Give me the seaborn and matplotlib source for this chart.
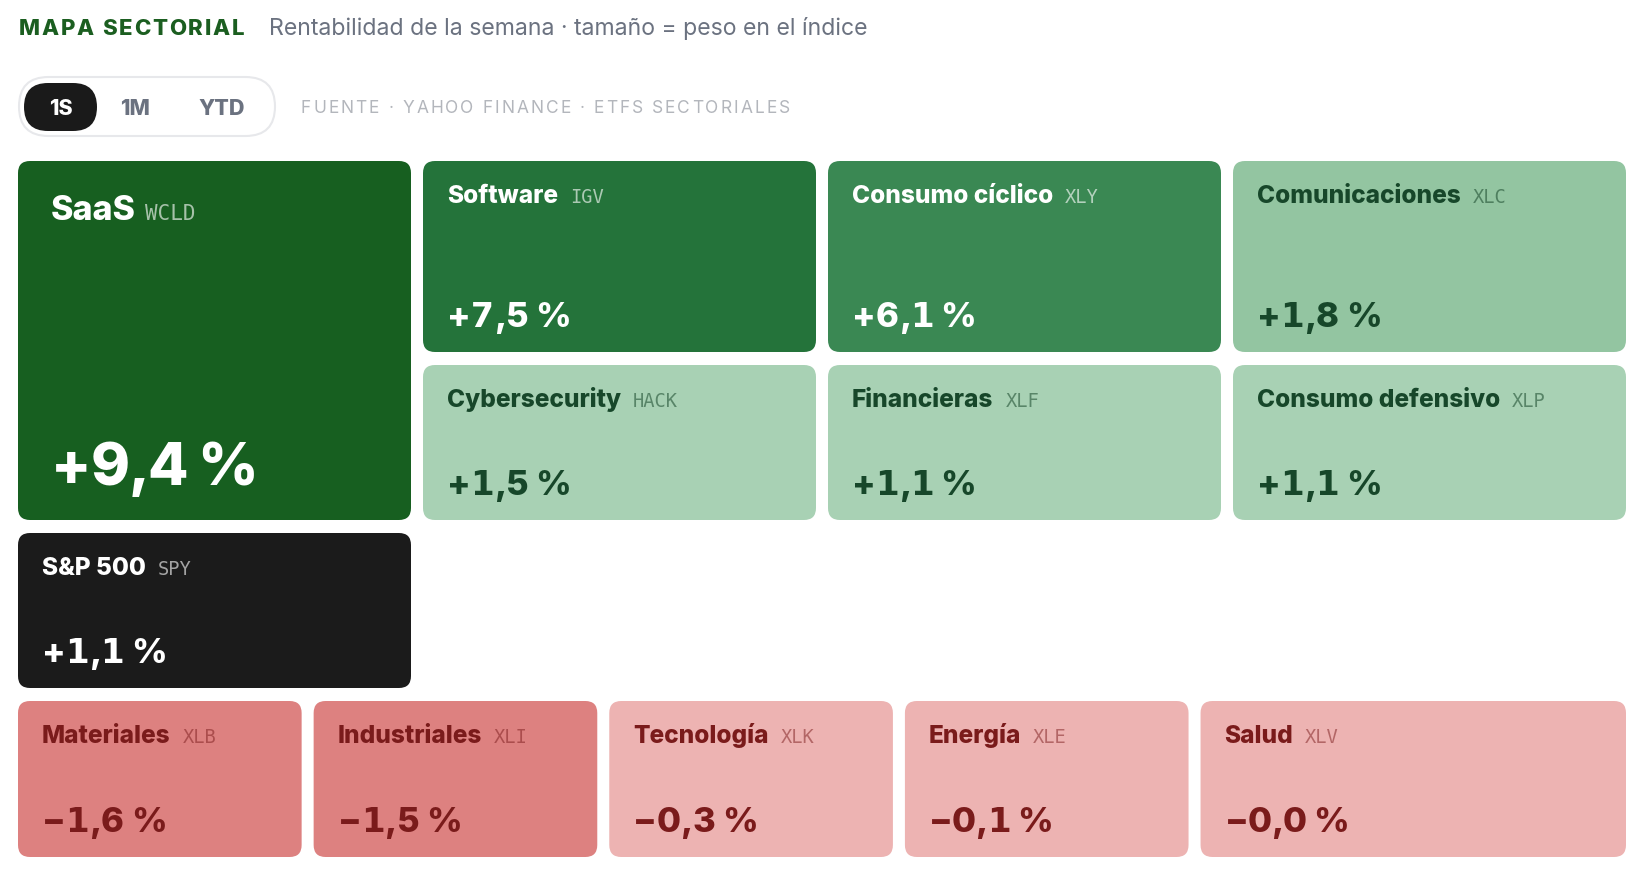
import math
import matplotlib
matplotlib.use("Agg")
import matplotlib.pyplot as plt
from matplotlib.patches import FancyBboxPatch
import seaborn as sns

# ---------------- data ----------------
sectors = ["SaaS", "Software", "Consumo cíclico", "Comunicaciones",
           "Cybersecurity", "Financieras", "Consumo defensivo", "S&P 500",
           "Materiales", "Industriales", "Tecnología", "Energía", "Salud"]
tickers = ["WCLD", "IGV", "XLY", "XLC", "HACK", "XLF", "XLP", "SPY",
           "XLB", "XLI", "XLK", "XLE", "XLV"]
returns = [9.4, 7.5, 6.1, 1.8, 1.5, 1.1, 1.1, 1.1,
           -1.6, -1.5, -0.3, -0.1, -0.0]
benchmark = "SPY"
periods = ["1S", "1M", "YTD"]
active_period = "1S"
title = "MAPA SECTORIAL"
subtitle = "Rentabilidad de la semana · tamaño = peso en el índice"
source = "FUENTE · YAHOO FINANCE · ETFS SECTORIALES"

# ---------------- style ----------------
sns.set_theme(style="white")
plt.rcParams["font.family"] = ["Inter", "DejaVu Sans"]
MONO = ["DejaVu Sans Mono"]
HEAVY = 800

W, H = 1648, 876
fig = plt.figure(figsize=(W / 100, H / 100), dpi=100)
fig.patch.set_facecolor("white")
ax = fig.add_axes([0, 0, 1, 1])
ax.set_xlim(0, W)
ax.set_ylim(H, 0)
ax.axis("off")
renderer = fig.canvas.get_renderer()


def text_w(s, **kw):
    t = ax.text(0, 0, s, **kw)
    w = t.get_window_extent(renderer).width
    t.remove()
    return w


def spaced(x, y, s, target_w=None, spacing=0.0, **kw):
    bar = text_w("|", **kw)
    offs = [0.0] + [text_w(s[:i] + "|", **kw) - bar for i in range(1, len(s))]
    natural = text_w(s, **kw)
    if target_w is not None:
        spacing = (target_w - natural) / (len(s) - 1)
    for i, ch in enumerate(s):
        if ch == " ":
            continue
        ax.text(x + offs[i] + i * spacing, y, ch, ha="left", va="baseline", **kw)


def tabular(x, y, s, spacing=0.0, **kw):
    """Draw text with tabular (fixed-width) digits; footed '1' like the original face."""
    bar = text_w("|", **kw)
    cell = text_w("0|", **kw) - bar
    cur = x
    for ch in s:
        if ch.isdigit():
            kk = dict(kw)
            if ch == "1":
                kk.update(family=["DejaVu Sans"], fontweight="bold",
                          fontsize=kw["fontsize"] * 0.98)
            ax.text(cur + cell / 2, y, ch, ha="center", va="baseline", **kk)
            cur += cell + spacing
        else:
            adv = text_w(ch + "|", **kw) - bar
            if ch != " ":
                ax.text(cur, y, ch, ha="left", va="baseline", **kw)
            cur += adv + spacing


def positive(v):
    return math.copysign(1, v) > 0


def fmt(v):
    sign = "+" if positive(v) else "\u2212"
    return f"{sign}{abs(v):.1f}".replace(".", ",") + " %"


def tone(v, tk):
    # returns (fill, text colour, ticker colour, ticker alpha)
    if tk == benchmark:
        return "#1b1b1b", "white", "white", 0.6
    if positive(v):
        if v >= 8:
            return "#175f20", "white", "white", 0.62
        if v >= 7:
            return "#24733a", "white", "white", 0.62
        if v >= 5:
            return "#3a8853", "white", "white", 0.62
        if v >= 1.7:
            return "#93c5a1", "#17472a", "#17472a", 0.55
        return "#a8d1b4", "#17472a", "#17472a", 0.55
    if v <= -1:
        return "#dd8180", "#7a1b1b", "#7a1b1b", 0.5
    return "#edb3b2", "#7a1b1b", "#7a1b1b", 0.5


# ---------------- header ----------------
spaced(19, 35, title, target_w=225, fontsize=16, fontweight=HEAVY, color="#1b5e20")
ax.text(269, 35, subtitle, fontsize=16.6, color="#6b7280", ha="left", va="baseline")

ax.add_patch(FancyBboxPatch((19, 77), 256, 59, boxstyle="round,pad=0,rounding_size=29.5",
                            fc="white", ec="#e7e8eb", lw=1.5))
ax.add_patch(FancyBboxPatch((24, 83), 73, 48, boxstyle="round,pad=0,rounding_size=24",
                            fc="#1a1a1a", ec="none"))
for p, cx in zip(periods, [60.5, 135, 222]):
    ax.text(cx, 107, p, ha="center", va="center_baseline", fontsize=15.5, fontweight=HEAVY,
            color="white" if p == active_period else "#6b7280")
spaced(301, 113, source, target_w=489, fontsize=12.5, color="#b3b6bc")

# ---------------- layout ----------------
X0, TOTAL_W, GAP_X = 18, 1608, 12
row_tops = [161, 365, 533, 701]
row_h = [191, 155, 155, 156]
col_w = (TOTAL_W - 3 * GAP_X) / 4
# (row_start, row_end, col_start, col_end) for the top block
spans = [(0, 2, 0, 1), (0, 1, 1, 2), (0, 1, 2, 3), (0, 1, 3, 4),
         (1, 2, 1, 2), (1, 2, 2, 3), (1, 2, 3, 4), (2, 3, 0, 1)]
bottom_units = [2, 2, 2, 2, 3]
unit = (TOTAL_W - GAP_X * (len(bottom_units) - 1)) / sum(bottom_units)

rects = []
for (r0, r1, c0, c1) in spans:
    x = X0 + c0 * (col_w + GAP_X)
    w = (c1 - c0) * col_w + (c1 - c0 - 1) * GAP_X
    y = row_tops[r0]
    h = row_tops[r1 - 1] + row_h[r1 - 1] - y
    rects.append((x, y, w, h))
x = X0
for u in bottom_units:
    w = u * unit
    rects.append((x, row_tops[3], w, row_h[3]))
    x += w + GAP_X

# ---------------- tiles ----------------
for i, (name, tk, v) in enumerate(zip(sectors, tickers, returns)):
    x, y, w, h = rects[i]
    fill, tc, kc, ka = tone(v, tk)
    ax.add_patch(FancyBboxPatch((x, y), w, h, boxstyle="round,pad=0,rounding_size=12",
                                fc=fill, ec="none"))
    big = (i == 0)
    pad = 33 if big else 24
    name_fs, tk_fs, val_fs = (24.5, 15, 42.5) if big else (17.6, 13.5, 25)
    name_base = y + (59 if big else 42)
    val_base = y + h - (35 if big else 25)
    ax.text(x + pad, name_base, name, ha="left", va="baseline", fontsize=name_fs,
            fontweight=HEAVY, color=tc)
    nw = text_w(name, fontsize=name_fs, fontweight=HEAVY)
    ax.text(x + pad + nw + (9 if big else 12), name_base, tk, ha="left", va="baseline",
            fontsize=tk_fs, family=MONO, color=kc, alpha=ka)
    tabular(x + pad, val_base, fmt(v), spacing=(-2.0 if big else -0.6),
            fontsize=val_fs, fontweight=HEAVY, color=tc)

fig.savefig("out.png", dpi=100, facecolor="white")
